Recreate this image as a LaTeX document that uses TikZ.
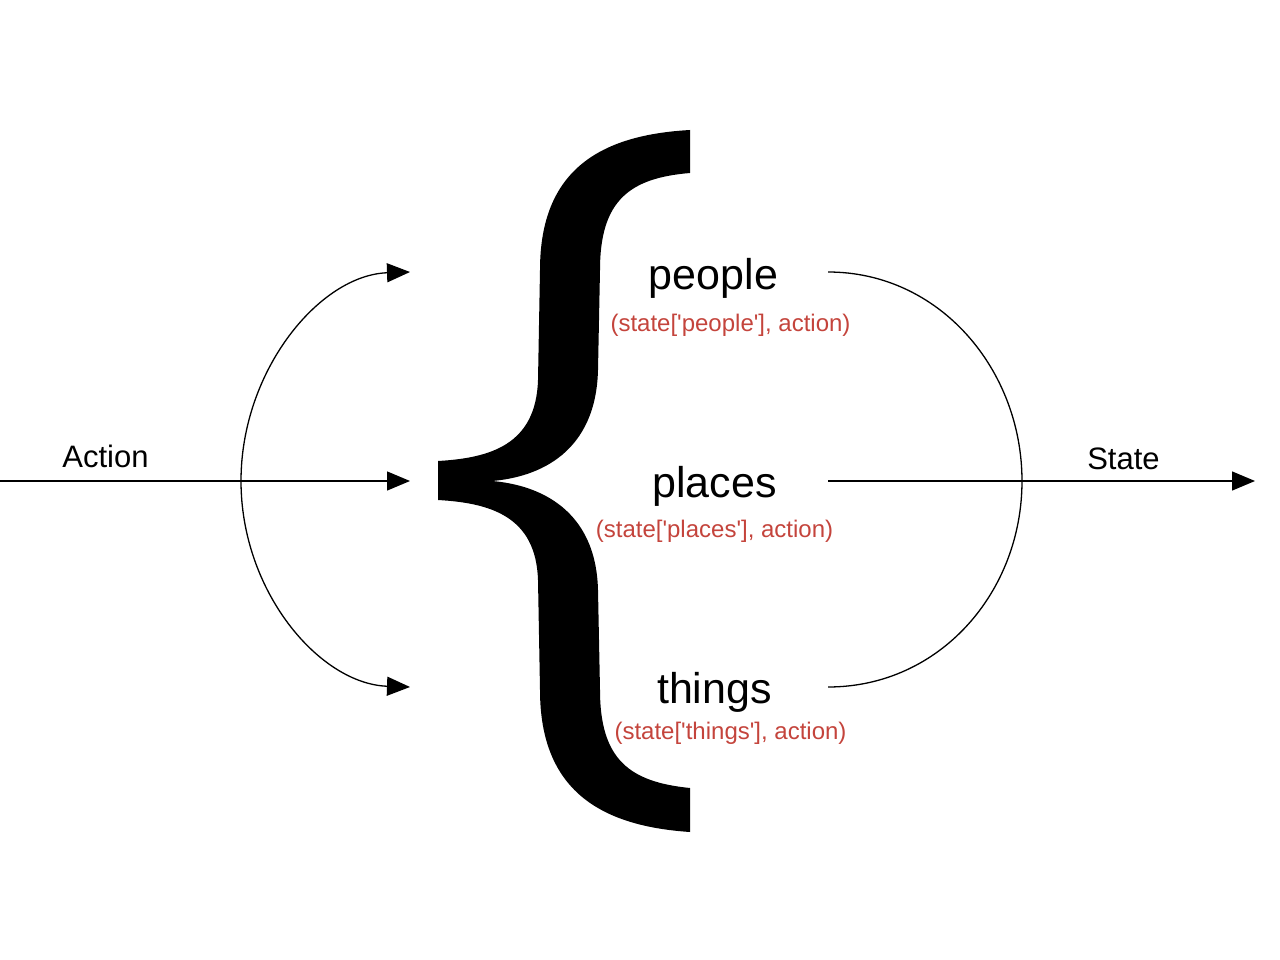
\documentclass[tikz,border=0pt]{standalone}
\usepackage{fontspec}
\setmainfont{Liberation Sans}[Ligatures=TeXOff]
\usetikzlibrary{arrows.meta}
\definecolor{redlabel}{RGB}{196,68,60}
\begin{document}
\begin{tikzpicture}[x=1pt,y=-1pt,
  conn/.style={line width=1.3pt},
  arr/.style={conn,-{Triangle[length=23pt,width=19pt]}},
  big/.style={font=\fontsize{43}{50}\selectfont,inner sep=0pt,anchor=base},
  red/.style={font=\fontsize{24}{28}\selectfont,text=redlabel,inner sep=0pt,anchor=base},
  mid/.style={font=\fontsize{31}{36}\selectfont,inner sep=0pt,anchor=base}]
\useasboundingbox (0,0) rectangle (1280,960);
% brace
\fill (690,130) .. controls (600,135) and (540,170) .. (540,270)
  -- (538,380) .. controls (536,445) and (490,458) .. (438,461)
  -- (438,500) .. controls (490,503) and (536,516) .. (538,580)
  -- (540,690) .. controls (540,790) and (600,826) .. (690,832)
  -- (690,788) .. controls (630,782) and (600,760) .. (600,690)
  -- (598,590) .. controls (596,510) and (540,485) .. (492,481)
  .. controls (540,477) and (596,452) .. (598,370)
  -- (600,270) .. controls (600,200) and (630,178) .. (690,173) -- cycle;
% text
\node[big] (people) at (713.5,290) {people};
\node[red] (peopleR) at (730.5,331) {(state['people'], action)};
\node[big] (places) at (714.5,497) {places};
\node[red] (placesR) at (714.5,537) {(state['places'], action)};
\node[big] (things) at (714.5,703) {things};
\node[red] (thingsR) at (730.5,739) {(state['things'], action)};
\node[mid] (action) at (105.5,467) {Action};
\node[mid] (state) at (1123.5,469) {State};
% coordinates
\coordinate (inStart) at (0,481);
\coordinate (split) at (241,481);
\coordinate (tipTop) at (410,272);
\coordinate (tipMid) at (410,481);
\coordinate (tipBot) at (410,687);
\coordinate (outTop) at (828,272);
\coordinate (outMid) at (828,481);
\coordinate (outBot) at (828,687);
\coordinate (merge) at (1022,481);
\coordinate (outEnd) at (1255,481);
% connectors
\draw[arr] (inStart) -- (tipMid);
\draw[arr] (split) .. controls (241,370) and (320,275) .. (tipTop);
\draw[arr] (split) .. controls (241,592) and (320,684) .. (tipBot);
\draw[arr] (outMid) -- (outEnd);
\draw[conn] (outTop) .. controls (940,272) and (1022,370) .. (merge);
\draw[conn] (outBot) .. controls (940,687) and (1022,592) .. (merge);
\end{tikzpicture}
\end{document}
